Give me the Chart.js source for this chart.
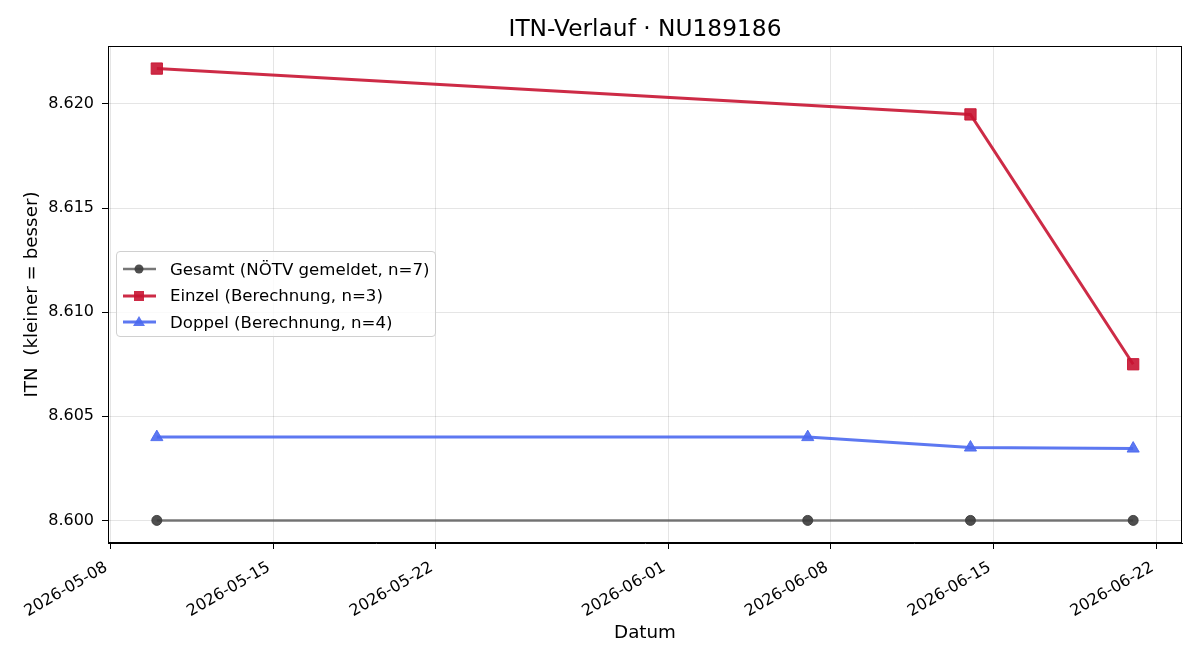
<!DOCTYPE html>
<html>
<head>
<meta charset="utf-8">
<script src="https://cdn.jsdelivr.net/npm/chart.js@4"></script>
<style>
  body { margin: 0; background: #fff; }
  #wrap { position: relative; width: 1200px; height: 660px; }
  #title {
    position: absolute; left: 108px; width: 1074px; top: 14px; height: 28px; line-height: 28px;
    text-align: center; font-family: "DejaVu Sans", sans-serif; font-size: 23.3px; color: #000;
  }
  #legend {
    position: absolute; left: 116px; top: 251px; width: 318px; height: 84px;
    border: 1px solid #d0d0d0; border-radius: 4px; background: rgba(255,255,255,0.8);
    font-family: "DejaVu Sans", sans-serif; font-size: 16.6px; color: #000;
  }
  .row { position: absolute; left: 6px; height: 20px; display: flex; align-items: center; white-space: nowrap; }
  .row svg { margin-right: 14px; }
</style>
</head>
<body>
<div id="wrap">
  <canvas id="chart" width="1200" height="660"></canvas>
  <div id="title">ITN-Verlauf · NU189186</div>
  <div id="legend"></div>
</div>
<script>
// Dates of the measurements
const gesamtDates = ['2026-05-10', '2026-06-07', '2026-06-14', '2026-06-21'];
const gesamtValues = [8.600, 8.600, 8.600, 8.600];

const einzelDates = ['2026-05-10', '2026-06-14', '2026-06-21'];
const einzelValues = [8.6217, 8.6195, 8.6075];

const doppelDates = ['2026-05-10', '2026-06-07', '2026-06-14', '2026-06-21'];
const doppelValues = [8.6040, 8.6040, 8.6035, 8.60345];

const xTickLabels = ['2026-05-08', '2026-05-15', '2026-05-22', '2026-06-01', '2026-06-08', '2026-06-15', '2026-06-22'];
const yTicks = [8.600, 8.605, 8.610, 8.615, 8.620];

const seriesLabels = ['Gesamt (NÖTV gemeldet, n=7)', 'Einzel (Berechnung, n=3)', 'Doppel (Berechnung, n=4)'];

// day number (UTC) for a date string
const toDay = s => Date.parse(s + 'T00:00:00Z') / 86400000;
const points = (dates, values) => dates.map((d, i) => ({ x: toDay(d), y: values[i] }));

// matplotlib-like 5% margins
const allX = gesamtDates.concat(einzelDates, doppelDates).map(toDay);
const allY = gesamtValues.concat(einzelValues, doppelValues);
const xMin = Math.min(...allX), xMax = Math.max(...allX);
const yMin = Math.min(...allY), yMax = Math.max(...allY);
const xPad = (xMax - xMin) * 0.05, yPad = (yMax - yMin) * 0.05;

const styles = [
    { color: 'rgba(85,85,85,0.8)', point: 'rgba(60,60,60,0.9)', shape: 'circle', r: 5, width: 2.5 },
    { color: 'rgba(200,20,50,0.9)', point: 'rgba(200,20,50,0.9)', shape: 'rect', r: 8, width: 3 },
    { color: 'rgba(75,105,240,0.9)', point: 'rgba(75,105,240,0.9)', shape: 'triangle', r: 7, width: 3 }
];

function makeDataset(i, data) {
    const s = styles[i];
    return {
        label: seriesLabels[i],
        data: data,
        borderColor: s.color,
        backgroundColor: s.point,
        pointBackgroundColor: s.point,
        pointBorderColor: s.point,
        pointStyle: s.shape,
        pointRadius: s.r,
        pointHoverRadius: s.r,
        borderWidth: s.width,
        pointBorderWidth: 1,
        tension: 0
    };
}

// black frame round the plot area
const framePlugin = {
    id: 'frame',
    afterDraw(chart) {
        const a = chart.chartArea, ctx = chart.ctx;
        ctx.save();
        ctx.strokeStyle = '#000';
        ctx.lineWidth = 1;
        ctx.strokeRect(a.left + 0.5, a.top + 0.5, a.right - a.left - 1, a.bottom - a.top - 1);
        ctx.restore();
    }
};

const font = 'DejaVu Sans';

new Chart(document.getElementById('chart').getContext('2d'), {
    type: 'line',
    data: {
        datasets: [
            makeDataset(0, points(gesamtDates, gesamtValues)),
            makeDataset(1, points(einzelDates, einzelValues)),
            makeDataset(2, points(doppelDates, doppelValues))
        ]
    },
    options: {
        responsive: false,
        animation: false,
        layout: { padding: { left: 0, right: 18, top: 46, bottom: 0 } },
        plugins: {
            legend: { display: false },
            tooltip: { enabled: false },
            title: { display: false }
        },
        scales: {
            x: {
                type: 'linear',
                min: xMin - xPad,
                max: xMax + xPad,
                afterBuildTicks: scale => { scale.ticks = xTickLabels.map(t => ({ value: toDay(t) })); },
                afterFit: scale => { scale.height = 117; },
                ticks: {
                    color: '#000',
                    font: { family: font, size: 16 },
                    minRotation: 30, maxRotation: 30,
                    padding: 9,
                    labelOffset: -4,
                    autoSkip: false,
                    callback: (v, i) => xTickLabels[i]
                },
                grid: { color: 'rgba(0,0,0,0.1)', tickColor: '#000', tickLength: 6 },
                border: { color: '#000', width: 1 },
                title: {
                    display: true, text: 'Datum', color: '#000',
                    font: { family: font, size: 18.3, lineHeight: 1.2 },
                    padding: { top: 0, bottom: 16 }
                }
            },
            y: {
                min: yMin - yPad,
                max: yMax + yPad,
                afterBuildTicks: scale => { scale.ticks = yTicks.map(v => ({ value: v })); },
                afterFit: scale => { scale.width = 108; },
                ticks: {
                    color: '#000',
                    font: { family: font, size: 16 },
                    padding: 8,
                    callback: v => v.toFixed(3)
                },
                grid: { color: 'rgba(0,0,0,0.1)', tickColor: '#000', tickLength: 6 },
                border: { color: '#000', width: 1 },
                title: {
                    display: true, text: 'ITN  (kleiner = besser)', color: '#000',
                    font: { family: font, size: 18.3, lineHeight: 1.2 },
                    padding: { top: 21, bottom: 0 }
                }
            }
        }
    },
    plugins: [framePlugin]
});

// legend inside the plot, drawn as HTML
const legend = document.getElementById('legend');
const markerSvg = [
    '<circle cx="16" cy="10" r="4.5" fill="rgba(60,60,60,0.9)"/>',
    '<rect x="11" y="5" width="10" height="10" fill="rgba(200,20,50,0.9)"/>',
    '<polygon points="16,4 22,14 10,14" fill="rgba(75,105,240,0.9)"/>'
];
seriesLabels.forEach((label, i) => {
    const row = document.createElement('div');
    row.className = 'row';
    row.style.top = (7 + i * 26.5) + 'px';
    row.innerHTML = '<svg width="33" height="20"><line x1="0" y1="10" x2="33" y2="10" stroke="' +
        styles[i].color + '" stroke-width="' + styles[i].width + '"/>' + markerSvg[i] + '</svg>' +
        '<span>' + label + '</span>';
    legend.appendChild(row);
});
</script>
</body>
</html>
